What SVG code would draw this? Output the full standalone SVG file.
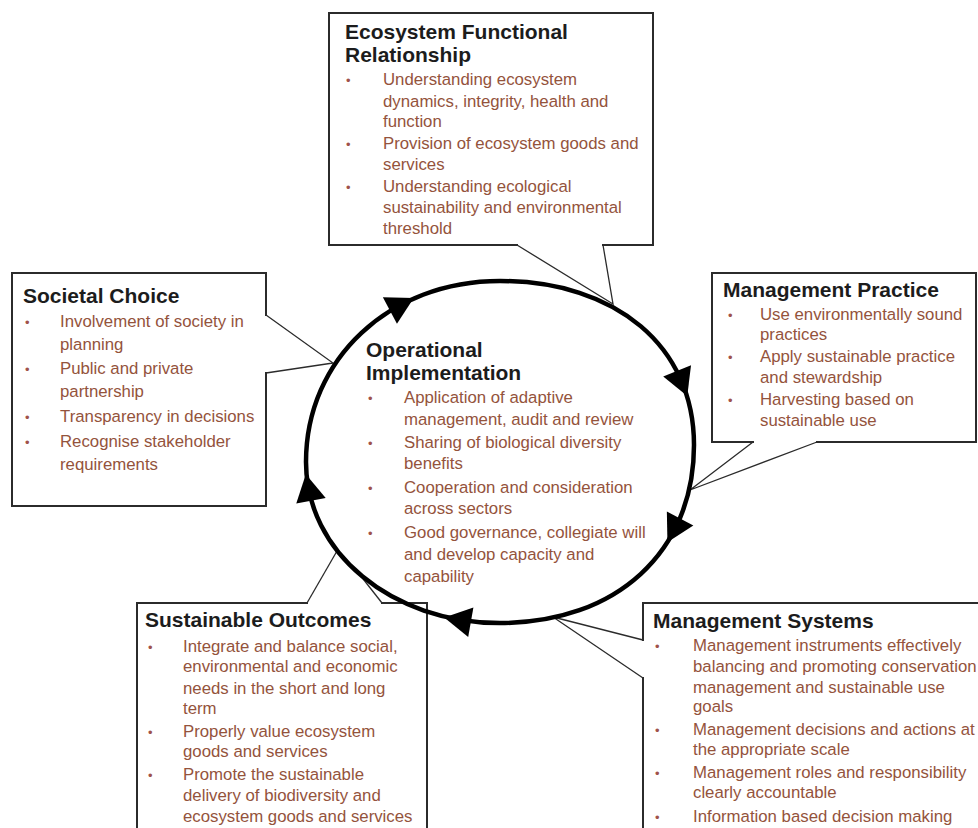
<svg xmlns="http://www.w3.org/2000/svg" xmlns:xlink="http://www.w3.org/1999/xlink" width="978" height="828" viewBox="0 0 978 828">
<style>
.box{fill:#fff;stroke:#2b2b2b;stroke-width:2}
.gap{fill:#fff;stroke:none}
.tail{fill:none;stroke:#2b2b2b;stroke-width:1.3;stroke-linejoin:miter}
.t{font-family:"Liberation Sans",Arial,sans-serif;font-weight:bold;font-size:21px;fill:#1c1c1c}
.b{font-family:"Liberation Sans",Arial,sans-serif;font-size:16.8px;fill:#94533c}
.d{font-family:"Liberation Sans",Arial,sans-serif;font-size:13px;fill:#a0524a}
.ring{fill:none;stroke:#000;stroke-width:4.5}
</style>
<defs>
<path id="ah" d="M14,0 L-13,-15 L-13,15 Z" fill="#000"/>
</defs>
<rect width="978" height="828" fill="#fff"/>

<g id="ecosystem-functional-relationship">
<rect class="box" x="329" y="13" width="324" height="232"/>
<rect class="gap" x="518" y="242" width="84" height="6"/>
<polyline class="tail" points="517,245 613,304 603,245"/>
<text class="t" x="345" y="39">Ecosystem Functional</text>
<text class="t" x="345" y="62">Relationship</text>
<text class="d" x="346" y="85">•</text>
<text class="b" x="383" y="85">Understanding ecosystem</text>
<text class="b" x="383" y="107">dynamics, integrity, health and</text>
<text class="b" x="383" y="127">function</text>
<text class="d" x="346" y="149">•</text>
<text class="b" x="383" y="149">Provision of ecosystem goods and</text>
<text class="b" x="383" y="170">services</text>
<text class="d" x="346" y="192">•</text>
<text class="b" x="383" y="192">Understanding ecological</text>
<text class="b" x="383" y="213">sustainability and environmental</text>
<text class="b" x="383" y="234">threshold</text>
</g>

<g id="societal-choice">
<rect class="box" x="12" y="273" width="254" height="233"/>
<rect class="gap" x="263" y="316" width="6" height="56"/>
<polyline class="tail" points="266,315 333,363 266,373"/>
<text class="t" x="23" y="303">Societal Choice</text>
<text class="d" x="25" y="327">•</text>
<text class="b" x="60" y="327">Involvement of society in</text>
<text class="b" x="60" y="350">planning</text>
<text class="d" x="25" y="374">•</text>
<text class="b" x="60" y="374">Public and private</text>
<text class="b" x="60" y="397">partnership</text>
<text class="d" x="25" y="422">•</text>
<text class="b" x="60" y="422">Transparency in decisions</text>
<text class="d" x="25" y="447">•</text>
<text class="b" x="60" y="447">Recognise stakeholder</text>
<text class="b" x="60" y="470">requirements</text>
</g>

<g id="management-practice">
<rect class="box" x="712" y="273" width="264" height="169"/>
<rect class="gap" x="754" y="439" width="62" height="6"/>
<polyline class="tail" points="753,442 690,490 817,442"/>
<text class="t" x="723" y="297">Management Practice</text>
<text class="d" x="728" y="320">•</text>
<text class="b" x="760" y="320">Use environmentally sound</text>
<text class="b" x="760" y="340">practices</text>
<text class="d" x="728" y="362">•</text>
<text class="b" x="760" y="362">Apply sustainable practice</text>
<text class="b" x="760" y="383">and stewardship</text>
<text class="d" x="728" y="405">•</text>
<text class="b" x="760" y="405">Harvesting based on</text>
<text class="b" x="760" y="426">sustainable use</text>
</g>

<g id="sustainable-outcomes">
<rect class="box" x="137" y="603" width="290" height="240"/>
<rect class="gap" x="308" y="600" width="73" height="6"/>
<polyline class="tail" points="307,603 337,551"/>
<polyline class="tail" points="360,575 382,603"/>
<text class="t" x="145" y="627">Sustainable Outcomes</text>
<text class="d" x="148" y="652">•</text>
<text class="b" x="183" y="652">Integrate and balance social,</text>
<text class="b" x="183" y="672">environmental and economic</text>
<text class="b" x="183" y="694">needs in the short and long</text>
<text class="b" x="183" y="714">term</text>
<text class="d" x="148" y="737">•</text>
<text class="b" x="183" y="737">Properly value ecosystem</text>
<text class="b" x="183" y="757">goods and services</text>
<text class="d" x="148" y="780">•</text>
<text class="b" x="183" y="780">Promote the sustainable</text>
<text class="b" x="183" y="801">delivery of biodiversity and</text>
<text class="b" x="183" y="822">ecosystem goods and services</text>
</g>

<g id="management-systems">
<rect class="box" x="643" y="603" width="345" height="240"/>
<rect class="gap" x="640" y="641" width="6" height="36"/>
<polyline class="tail" points="643,640 553,617 643,678"/>
<text class="t" x="653" y="628">Management Systems</text>
<text class="d" x="655" y="651">•</text>
<text class="b" x="693" y="651">Management instruments effectively</text>
<text class="b" x="693" y="672">balancing and promoting conservation</text>
<text class="b" x="693" y="693">management and sustainable use</text>
<text class="b" x="693" y="712">goals</text>
<text class="d" x="655" y="735">•</text>
<text class="b" x="693" y="735">Management decisions and actions at</text>
<text class="b" x="693" y="755">the appropriate scale</text>
<text class="d" x="655" y="778">•</text>
<text class="b" x="693" y="778">Management roles and responsibility</text>
<text class="b" x="693" y="798">clearly accountable</text>
<text class="d" x="655" y="822">•</text>
<text class="b" x="693" y="822">Information based decision making</text>
</g>

<g id="operational-implementation">
<text class="t" x="366" y="357">Operational</text>
<text class="t" x="366" y="380">Implementation</text>
<text class="d" x="368" y="403">•</text>
<text class="b" x="404" y="403">Application of adaptive</text>
<text class="b" x="404" y="425">management, audit and review</text>
<text class="d" x="368" y="448">•</text>
<text class="b" x="404" y="448">Sharing of biological diversity</text>
<text class="b" x="404" y="469">benefits</text>
<text class="d" x="368" y="493">•</text>
<text class="b" x="404" y="493">Cooperation and consideration</text>
<text class="b" x="404" y="514">across sectors</text>
<text class="d" x="368" y="538">•</text>
<text class="b" x="404" y="538">Good governance, collegiate will</text>
<text class="b" x="404" y="560">and develop capacity and</text>
<text class="b" x="404" y="582">capability</text>
</g>

<g id="connectors">
<path class="ring" d="M694,445 C694,551.8 616.4,623 500,623 C391.4,623 306,552.2 306,462 C306,358.8 389.4,281 500,281 C616.4,281 694,346.6 694,445 Z"/>
<use xlink:href="#ah" href="#ah" transform="translate(401.4,304.5) rotate(-28)"/>
<use xlink:href="#ah" href="#ah" transform="translate(682,383) rotate(68)"/>
<use xlink:href="#ah" href="#ah" transform="translate(674,530) rotate(118)"/>
<use xlink:href="#ah" href="#ah" transform="translate(458,620) rotate(190)"/>
<use xlink:href="#ah" href="#ah" transform="translate(308.5,488) rotate(259)"/>
</g>
</svg>
